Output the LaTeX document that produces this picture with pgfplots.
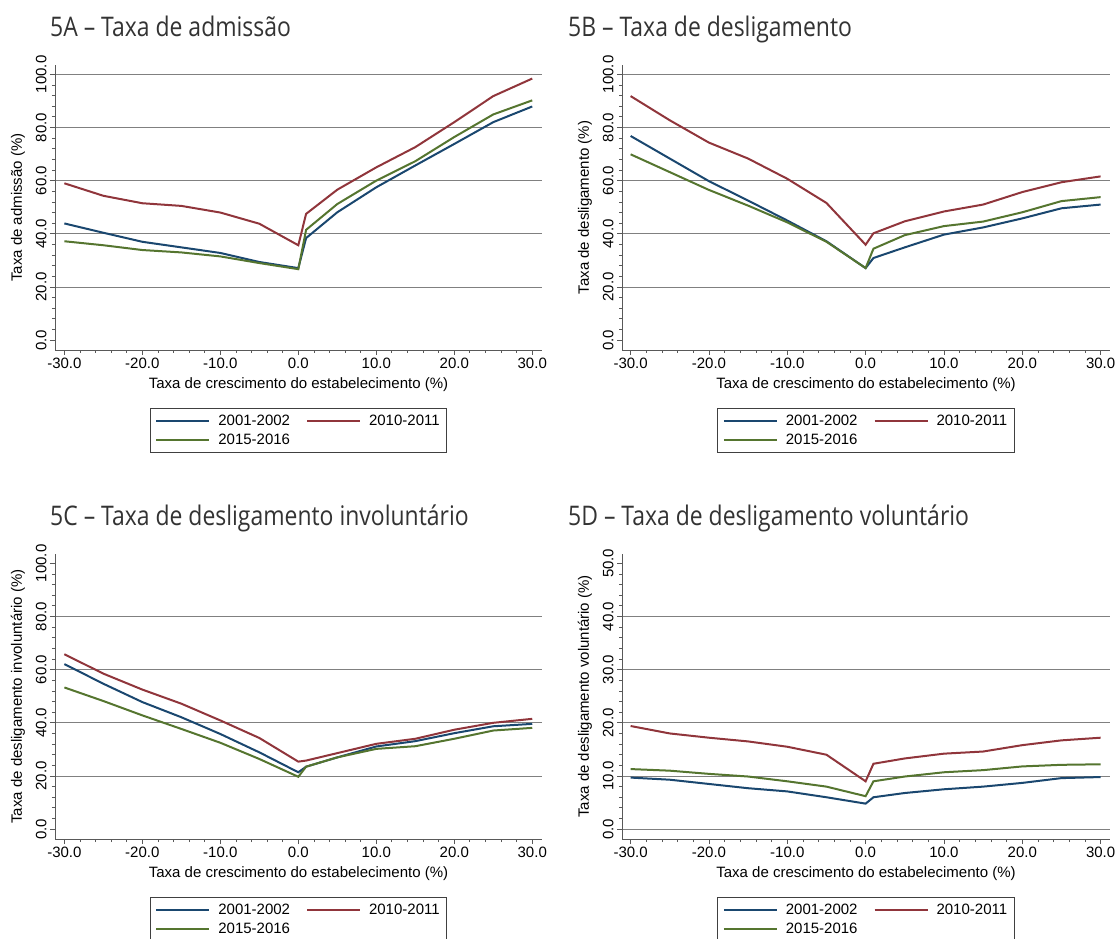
\documentclass[border=0pt]{standalone}
\usepackage{fontspec}
\setmainfont{Liberation Sans}
\newfontfamily\titlefont[FakeStretch=0.85]{Open Sans}
\usepackage{pgfplots}
\pgfplotsset{compat=1.18}
\definecolor{sblue}{HTML}{1A476F}
\definecolor{sred}{HTML}{90353B}
\definecolor{sgreen}{HTML}{55752F}
\newcommand{\fs}{\fontsize{15bp}{18bp}\selectfont}
\newcommand{\tfs}{\titlefont\fontsize{27bp}{32bp}\selectfont}
\pgfplotsset{
  panel/.style={
    scale only axis, height=285bp,
    axis x line*=bottom, axis y line*=left,
    xtick pos=left, ytick pos=left,
    axis line style={black!65, line width=0.8bp, -},
    every tick/.style={black!65, line width=0.8bp},
    tick align=outside, major tick length=5bp, minor tick length=3bp,
    xtick={-30,-20,...,30}, minor xtick={-30,-28,...,30},
    ymajorgrids, grid style={black!50, line width=0.8bp},
    extra y tick style={grid=none},
    ticklabel style={font=\fs},
    /pgf/number format/.cd, fixed, fixed zerofill, precision=1, assume math mode=true, /pgfplots/.cd,
    yticklabel style={rotate=90, anchor=south},
    xlabel={Taxa de crescimento do estabelecimento (\%)},
    label style={font=\fs},
    xlabel style={at={(axis description cs:0.5,-0.123)}, anchor=center},
    ylabel style={at={(axis description cs:-0.076,0.5)}, anchor=center},
    legend columns=2,
    legend cell align=left,
    legend style={at={(0.5,-0.2035)}, anchor=north, draw=black!75, line width=0.8bp,
      font=\fs, nodes={inner xsep=2bp, inner ysep=1.5bp},
      /tikz/every odd column/.append style={column sep=6bp},
      /tikz/every even column/.append style={column sep=14bp},
      row sep=4bp,
      inner xsep=5bp, inner ysep=5bp},
    legend image code/.code={\draw[#1] (0bp,0bp) -- (53bp,0bp);},
    every axis plot/.append style={line width=2bp},
  },
  left panel/.style={panel, width=487bp, xmin=-31.2, xmax=31.25},
  right panel/.style={panel, width=488bp, xmin=-31.1, xmax=31.2},
}
\begin{document}
\begin{tikzpicture}
% ---------- 5A ----------
\node[anchor=base west, font=\tfs, text=black!80, inner sep=0pt] at (50bp,902bp) {5A – Taxa de admissão};
\begin{axis}[left panel, at={(55bp,589bp)}, anchor=south west,
  ymin=-3.7, ymax=103.5, ytick={20,40,...,100}, extra y ticks={0}, minor ytick={0,4,...,100},
  ylabel={Taxa de admissão (\%)}]
\addplot[sblue] coordinates {(-30,43.9)(-25,40.4)(-20,37.0)(-15,34.9)(-10,32.8)(-5,29.4)(0,27.1)(1,38.4)(5,48.1)(10,57.5)(15,65.7)(20,73.8)(25,82.0)(30,87.9)};
\addplot[sred] coordinates {(-30,59.0)(-25,54.3)(-20,51.5)(-15,50.5)(-10,48.0)(-5,43.8)(0,35.7)(1,47.5)(5,56.6)(10,65.0)(15,72.6)(20,82.0)(25,91.8)(30,98.4)};
\addplot[sgreen] coordinates {(-30,37.2)(-25,35.7)(-20,33.9)(-15,33.0)(-10,31.5)(-5,29.0)(0,26.7)(1,41.5)(5,51.2)(10,60.0)(15,67.3)(20,76.4)(25,84.9)(30,90.2)};
\legend{2001-2002,2010-2011,2015-2016}
\end{axis}
% ---------- 5B ----------
\node[anchor=base west, font=\tfs, text=black!80, inner sep=0pt] at (568bp,902bp) {5B – Taxa de desligamento};
\begin{axis}[right panel, at={(622bp,589bp)}, anchor=south west,
  ymin=-3.7, ymax=103.5, ytick={20,40,...,100}, extra y ticks={0}, minor ytick={0,4,...,100},
  ylabel={Taxa de desligamento (\%)}]
\addplot[sblue] coordinates {(-30,76.8)(-25,68.3)(-20,59.8)(-15,52.5)(-10,45.0)(-5,37.2)(0,27.1)(1,30.9)(5,34.9)(10,39.7)(15,42.4)(20,45.8)(25,49.6)(30,51.0)};
\addplot[sred] coordinates {(-30,91.8)(-25,82.7)(-20,74.3)(-15,68.3)(-10,60.7)(-5,51.6)(0,35.9)(1,40.2)(5,44.7)(10,48.4)(15,51.0)(20,55.7)(25,59.4)(30,61.6)};
\addplot[sgreen] coordinates {(-30,69.9)(-25,63.2)(-20,56.5)(-15,50.6)(-10,44.3)(-5,37.0)(0,27.1)(1,34.4)(5,39.5)(10,42.9)(15,44.6)(20,48.1)(25,52.3)(30,53.8)};
\legend{2001-2002,2010-2011,2015-2016}
\end{axis}
% ---------- 5C ----------
\node[anchor=base west, font=\tfs, text=black!80, inner sep=0pt] at (50bp,413bp) {5C – Taxa de desligamento involuntário};
\begin{axis}[left panel, at={(55bp,100bp)}, anchor=south west,
  ymin=-3.7, ymax=103.5, ytick={20,40,...,80}, extra y ticks={0,100}, minor ytick={0,4,...,100},
  ylabel={Taxa de desligamento involuntário (\%)}]
\addplot[sblue] coordinates {(-30,62.1)(-25,54.7)(-20,47.8)(-15,42.1)(-10,35.8)(-5,28.9)(0,21.4)(1,23.5)(5,27.0)(10,31.1)(15,33.1)(20,36.1)(25,38.7)(30,39.6)};
\addplot[sred] coordinates {(-30,65.8)(-25,58.5)(-20,52.5)(-15,47.2)(-10,40.9)(-5,34.3)(0,25.4)(1,25.8)(5,28.6)(10,32.1)(15,34.0)(20,37.4)(25,40.0)(30,41.5)};
\addplot[sgreen] coordinates {(-30,53.3)(-25,48.2)(-20,42.8)(-15,37.7)(-10,32.5)(-5,26.4)(0,19.7)(1,23.5)(5,27.0)(10,30.2)(15,31.2)(20,34.0)(25,37.1)(30,38.1)};
\legend{2001-2002,2010-2011,2015-2016}
\end{axis}
% ---------- 5D ----------
\node[anchor=base west, font=\tfs, text=black!80, inner sep=0pt] at (568bp,413bp) {5D – Taxa de desligamento voluntário};
\begin{axis}[right panel, at={(622bp,100bp)}, anchor=south west,
  ymin=-1.85, ymax=51.75, ytick={0,10,...,40}, extra y ticks={50}, minor ytick={0,2,...,50},
  ylabel={Taxa de desligamento voluntário (\%)}]
\addplot[sblue] coordinates {(-30,9.7)(-25,9.3)(-20,8.5)(-15,7.7)(-10,7.1)(-5,6.0)(0,4.8)(1,6.0)(5,6.8)(10,7.5)(15,8.0)(20,8.7)(25,9.6)(30,9.8)};
\addplot[sred] coordinates {(-30,19.4)(-25,18.0)(-20,17.2)(-15,16.5)(-10,15.5)(-5,14.0)(0,9.0)(1,12.3)(5,13.3)(10,14.2)(15,14.6)(20,15.8)(25,16.7)(30,17.2)};
\addplot[sgreen] coordinates {(-30,11.3)(-25,11.0)(-20,10.4)(-15,9.9)(-10,9.0)(-5,8.0)(0,6.2)(1,9.0)(5,9.9)(10,10.7)(15,11.1)(20,11.8)(25,12.1)(30,12.2)};
\legend{2001-2002,2010-2011,2015-2016}
\end{axis}
\pgfresetboundingbox
\useasboundingbox (0bp,0bp) rectangle (1117bp,939bp);
\end{tikzpicture}
\end{document}
